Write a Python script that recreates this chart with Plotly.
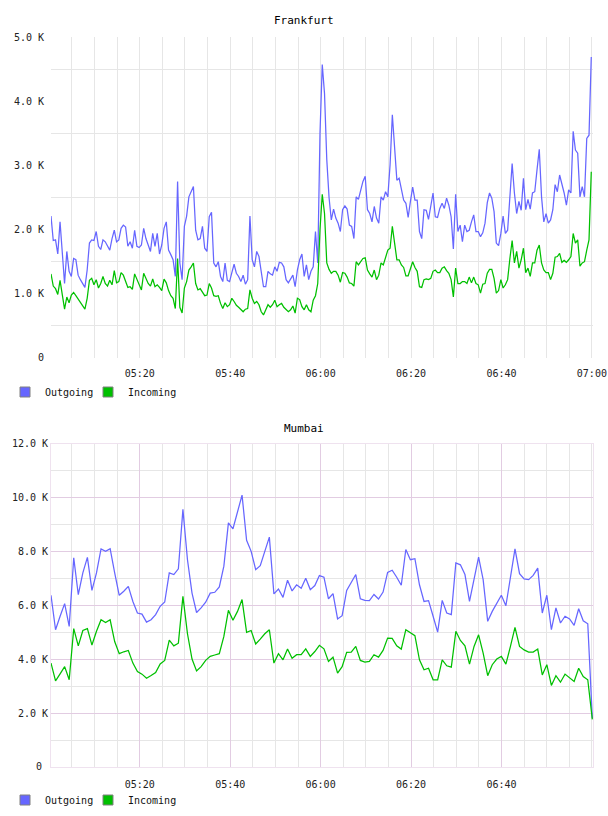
import pandas as pd
import plotly.graph_objects as go

# ---------------- data (values in thousands) ----------------
frankfurt_outgoing = [
    2.21, 1.83, 1.84, 1.62, 2.12, 1.68, 1.16, 1.66, 1.35, 1.27,
    1.55, 1.53, 1.29, 1.22, 1.16, 1.10, 1.37, 1.79, 1.84, 1.83,
    1.97, 1.74, 1.69, 1.84, 1.81, 1.74, 1.68, 1.86, 1.99, 1.81,
    1.84, 2.02, 2.07, 2.04, 1.74, 1.81, 1.71, 1.99, 1.74, 1.72,
    1.76, 2.02, 1.86, 1.76, 1.66, 1.94, 1.74, 1.94, 1.62, 1.76,
    2.02, 2.12, 1.68, 1.61, 1.53, 1.27, 2.75, 1.48, 1.22, 2.05,
    2.21, 2.51, 2.59, 2.67, 1.99, 1.84, 1.86, 2.05, 1.71, 1.66,
    2.20, 2.27, 1.48, 1.42, 1.50, 1.27, 1.19, 1.48, 1.21, 1.19,
    1.33, 1.46, 1.32, 1.27, 1.19, 1.29, 1.15, 1.22, 2.21, 1.53,
    1.42, 1.66, 1.58, 1.35, 1.11, 1.11, 1.35, 1.31, 1.29, 1.42,
    1.35, 1.49, 1.48, 1.42, 1.22, 1.17, 1.22, 1.29, 1.11, 1.37,
    1.53, 1.62, 1.27, 1.45, 1.22, 1.35, 1.42, 1.97, 1.48, 3.50,
    4.57, 4.12, 3.09, 2.50, 2.15, 2.32, 2.18, 2.10, 1.97, 2.31,
    2.37, 2.32, 2.07, 2.05, 1.86, 2.51, 2.47, 2.62, 2.75, 2.83,
    2.31, 2.25, 2.12, 2.36, 2.18, 2.10, 2.51, 2.46, 2.59, 2.51,
    3.01, 3.79, 3.24, 2.77, 2.80, 2.64, 2.46, 2.41, 2.19, 2.44,
    2.66, 2.46, 2.46, 1.97, 1.86, 2.31, 2.30, 2.16, 2.40, 2.57,
    2.20, 2.19, 2.33, 2.41, 2.33, 2.49, 2.38, 2.20, 1.70, 2.55,
    1.97, 2.07, 1.81, 2.07, 1.97, 1.99, 2.12, 2.23, 1.97, 1.97,
    1.89, 1.95, 2.10, 2.42, 2.57, 2.49, 2.28, 1.79, 1.75, 1.94,
    2.21, 1.94, 1.99, 2.46, 3.03, 2.57, 2.25, 2.44, 2.30, 2.80,
    2.31, 2.47, 2.32, 2.57, 2.59, 2.93, 3.25, 2.51, 2.12, 2.25,
    2.10, 2.15, 2.31, 2.70, 2.59, 2.85, 2.72, 2.57, 2.38, 2.62,
    2.57, 3.53, 3.24, 3.19, 2.51, 2.67, 2.51, 3.42, 3.47, 4.69,
]
frankfurt_incoming = [
    1.31, 1.12, 1.08, 0.99, 1.21, 1.01, 0.76, 0.95, 0.86, 0.98,
    1.02, 0.97, 0.92, 0.85, 0.81, 0.76, 0.93, 1.21, 1.24, 1.14,
    1.22, 1.09, 1.16, 1.27, 1.16, 1.12, 1.21, 1.14, 1.36, 1.17,
    1.19, 1.33, 1.29, 1.19, 1.10, 1.11, 1.07, 1.31, 1.22, 1.12,
    1.06, 1.32, 1.23, 1.16, 1.12, 1.23, 1.11, 1.14, 1.10, 1.05,
    1.23, 1.17, 1.05, 0.97, 0.93, 0.77, 1.55, 0.79, 0.70, 1.09,
    1.19, 1.37, 1.42, 1.48, 1.16, 1.06, 1.08, 1.03, 0.97, 0.98,
    1.16, 1.09, 0.97, 0.96, 0.97, 0.85, 0.77, 0.86, 0.80, 0.83,
    0.93, 0.88, 0.82, 0.79, 0.75, 0.72, 0.76, 0.77, 1.06, 0.93,
    0.85, 0.88, 0.83, 0.72, 0.67, 0.75, 0.83, 0.79, 0.83, 0.90,
    0.80, 0.83, 0.85, 0.79, 0.76, 0.72, 0.75, 0.81, 0.70, 0.93,
    0.91, 0.80, 0.75, 0.83, 0.75, 0.72, 0.90, 0.97, 1.16, 2.00,
    2.55, 2.25, 1.48, 1.38, 1.32, 1.35, 1.35, 1.29, 1.18, 1.33,
    1.32, 1.26, 1.17, 1.16, 1.12, 1.50, 1.45, 1.50, 1.55, 1.56,
    1.37, 1.31, 1.26, 1.37, 1.22, 1.29, 1.48, 1.45, 1.55, 1.68,
    1.71, 2.05, 1.79, 1.53, 1.53, 1.45, 1.41, 1.28, 1.28, 1.38,
    1.50, 1.41, 1.35, 1.11, 1.10, 1.22, 1.23, 1.22, 1.24, 1.35,
    1.37, 1.33, 1.33, 1.40, 1.42, 1.36, 1.32, 1.22, 0.95, 1.40,
    1.16, 1.16, 1.19, 1.19, 1.16, 1.26, 1.17, 1.26, 1.16, 1.14,
    1.01, 1.15, 1.16, 1.32, 1.38, 1.38, 1.24, 1.01, 1.05, 1.22,
    1.09, 1.14, 1.22, 1.55, 1.83, 1.48, 1.66, 1.40, 1.53, 1.71,
    1.33, 1.40, 1.27, 1.48, 1.48, 1.68, 1.76, 1.48, 1.37, 1.33,
    1.33, 1.22, 1.32, 1.57, 1.58, 1.63, 1.49, 1.52, 1.49, 1.53,
    1.58, 1.94, 1.79, 1.84, 1.43, 1.48, 1.50, 1.68, 1.84, 2.90,
]
mumbai_outgoing = [
    6.38, 5.10, 5.60, 6.07, 5.22, 7.77, 6.40, 7.21, 7.79, 6.56,
    7.21, 8.10, 8.01, 8.11, 7.21, 6.38, 6.53, 6.71, 6.15, 5.72,
    5.68, 5.38, 5.47, 5.66, 5.97, 6.13, 7.21, 7.15, 7.36, 9.57,
    7.70, 6.46, 5.74, 5.91, 6.12, 6.46, 6.49, 6.69, 7.46, 9.07,
    8.85, 9.50, 10.10, 8.42, 8.01, 7.33, 7.48, 8.01, 8.54, 6.43,
    6.61, 6.30, 6.94, 6.54, 6.77, 6.64, 7.01, 6.59, 6.74, 7.11,
    7.05, 6.25, 6.44, 5.50, 5.62, 6.56, 6.86, 7.15, 6.25, 6.19,
    6.18, 6.41, 6.24, 6.50, 7.23, 7.31, 7.05, 6.75, 8.08, 7.70,
    7.74, 6.77, 6.15, 6.18, 5.60, 5.01, 6.19, 5.72, 5.66, 7.58,
    7.51, 7.15, 6.15, 7.02, 7.80, 6.96, 5.41, 5.78, 6.07, 6.38,
    5.99, 7.02, 8.10, 7.18, 6.99, 6.96, 7.12, 7.39, 5.72, 6.38,
    5.10, 5.91, 5.35, 5.60, 5.50, 5.26, 5.88, 5.43, 5.32, 1.81,
]
mumbai_incoming = [
    3.86, 3.20, 3.46, 3.73, 3.24, 5.14, 4.50, 5.07, 5.14, 4.53,
    5.04, 5.47, 5.37, 5.47, 4.66, 4.21, 4.28, 4.33, 3.86, 3.55,
    3.45, 3.30, 3.40, 3.51, 3.83, 3.96, 4.71, 4.50, 4.60, 6.34,
    4.95, 4.01, 3.57, 3.73, 3.96, 4.11, 4.16, 4.21, 4.85, 5.82,
    5.45, 5.78, 6.22, 5.00, 5.07, 4.57, 4.75, 4.95, 5.10, 3.86,
    4.21, 3.98, 4.38, 4.04, 4.17, 4.17, 4.39, 4.11, 4.29, 4.52,
    4.39, 3.92, 4.08, 3.49, 3.73, 4.26, 4.27, 4.48, 3.96, 3.90,
    3.92, 4.17, 4.08, 4.33, 4.79, 4.78, 4.50, 4.38, 5.10, 5.00,
    4.88, 3.98, 3.61, 3.67, 3.24, 3.24, 3.98, 3.76, 3.71, 5.04,
    4.70, 4.50, 3.82, 4.48, 4.91, 4.23, 3.39, 3.80, 4.01, 4.11,
    3.82, 4.48, 5.19, 4.48, 4.35, 4.27, 4.27, 4.38, 3.42, 3.80,
    3.03, 3.39, 3.15, 3.45, 3.33, 3.18, 3.67, 3.36, 3.24, 1.77,
]
series_names = ["Outgoing", "Incoming"]
time_ticks = ["05:20", "05:40", "06:00", "06:20", "06:40", "07:00"]
frankfurt_yticks = [0, 1, 2, 3, 4, 5]
frankfurt_ylabels = ["0", "1.0 K", "2.0 K", "3.0 K", "4.0 K", "5.0 K"]
mumbai_yticks = [0, 2, 4, 6, 8, 10, 12]
mumbai_ylabels = ["0", "2.0 K", "4.0 K", "6.0 K", "8.0 K", "10.0 K", "12.0 K"]

DAY = "2024-01-01 "
frankfurt_times = pd.date_range(DAY + "05:00:22", periods=len(frankfurt_outgoing), freq="30s")
mumbai_times = pd.date_range(DAY + "05:00:22", DAY + "07:00:06", periods=len(mumbai_outgoing))

# ---------------- style ----------------
BLUE = "#6666ff"
GREEN = "#00c000"
GRID = "#e6e6e6"
PINK = "#e2cce2"
PINK_BORDER = "#efe2ef"
MONO = "DejaVu Sans Mono"
NB = "\u00a0"
W, H = 608, 816

fig = go.Figure()

def add_lines(times, vals, color, xa, ya):
    fig.add_trace(go.Scatter(x=times, y=vals, mode="lines", line=dict(color=color, width=1.25),
                             xaxis=xa, yaxis=ya, showlegend=False, hoverinfo="skip"))

add_lines(frankfurt_times, frankfurt_outgoing, BLUE, "x", "y")
add_lines(frankfurt_times, frankfurt_incoming, GREEN, "x", "y")
add_lines(mumbai_times, mumbai_outgoing, BLUE, "x2", "y2")
add_lines(mumbai_times, mumbai_incoming, GREEN, "x2", "y2")

# legend swatches: one single-item legend per entry so each can be placed
legend_ids = [["legend", "legend2"], ["legend3", "legend4"]]
for (xa, ya), ids in zip([("x", "y"), ("x2", "y2")], legend_ids):
    for name, color, lg in zip(series_names, [BLUE, GREEN], ids):
        fig.add_trace(go.Scatter(x=[None], y=[None], mode="markers", name=name, legend=lg,
                                 marker=dict(symbol="square", size=10, color=color,
                                             line=dict(color="#808080", width=1)),
                                 xaxis=xa, yaxis=ya))

xr = [DAY + "05:00:22", DAY + "07:00:15"]
tickv = [DAY + t for t in time_ticks]

common_x = dict(type="date", range=xr, tickfont=dict(family=MONO, size=10, color="#222"),
                ticks="", ticklabelstandoff=8, zeroline=False, fixedrange=True, automargin=False)

legend_common = dict(orientation="h", xref="container", yref="container", xanchor="left",
                     yanchor="middle", font=dict(family=MONO, size=10, color="#111"),
                     bgcolor="rgba(0,0,0,0)", itemsizing="trace", tracegroupgap=0)

fig.update_layout(
    width=W, height=H,
    margin=dict(l=51, r=15, t=37, b=49, autoexpand=False),
    paper_bgcolor="white", plot_bgcolor="white",
    font=dict(family=MONO, size=10, color="#111"),
    xaxis=dict(common_x, domain=[0, 1], anchor="y", tickvals=tickv, ticktext=time_ticks,
               showgrid=True, gridcolor=GRID, gridwidth=1, showline=False,
               minor=dict(tick0=DAY + "05:00", dtick=300000, showgrid=True, gridcolor=GRID, gridwidth=1)),
    yaxis=dict(domain=[0.5603, 1], anchor="x", range=[0, 5], tickvals=frankfurt_yticks,
               ticktext=[t + NB for t in frankfurt_ylabels], showgrid=False, zeroline=False,
               showline=False, ticks="", ticklabelstandoff=0, automargin=False,
               tickfont=dict(family=MONO, size=10, color="#222"),
               minor=dict(tick0=0.5, dtick=1, showgrid=True, gridcolor=GRID, gridwidth=1)),
    xaxis2=dict(common_x, domain=[0, 1], anchor="y2", tickvals=tickv[:-1], ticktext=time_ticks[:-1],
                showgrid=True, gridcolor=PINK, gridwidth=1, showline=True, mirror=True,
                linecolor=PINK_BORDER, linewidth=1,
                minor=dict(tick0=DAY + "05:00", dtick=300000, showgrid=True, gridcolor=GRID, gridwidth=1)),
    yaxis2=dict(domain=[0, 0.4425], anchor="x2", range=[0, 12], tickvals=mumbai_yticks,
                ticktext=[mumbai_ylabels[0] + NB] + mumbai_ylabels[1:], showgrid=True,
                gridcolor=PINK, gridwidth=1, zeroline=False, showline=True, mirror=True,
                linecolor=PINK_BORDER, linewidth=1, ticks="", ticklabelstandoff=0, automargin=False,
                tickfont=dict(family=MONO, size=10, color="#222"),
                minor=dict(dtick=1, showgrid=True, gridcolor=GRID, gridwidth=1)),
    legend=dict(legend_common, x=5 / W, y=1 - 392 / H),
    legend2=dict(legend_common, x=88 / W, y=1 - 392 / H),
    legend3=dict(legend_common, x=5 / W, y=1 - 800 / H),
    legend4=dict(legend_common, x=88 / W, y=1 - 800 / H),
    annotations=[
        dict(text="Frankfurt", xref="paper", yref="paper", x=(304 - 51) / 542, y=(767 - 20) / 730,
             showarrow=False, font=dict(family=MONO, size=11, color="#000"), xanchor="center", yanchor="middle"),
        dict(text="Mumbai", xref="paper", yref="paper", x=(304 - 51) / 542, y=(767 - 428) / 730,
             showarrow=False, font=dict(family=MONO, size=11, color="#000"), xanchor="center", yanchor="middle"),
    ],
)

fig.write_html("out.html", config={"displayModeBar": False})
